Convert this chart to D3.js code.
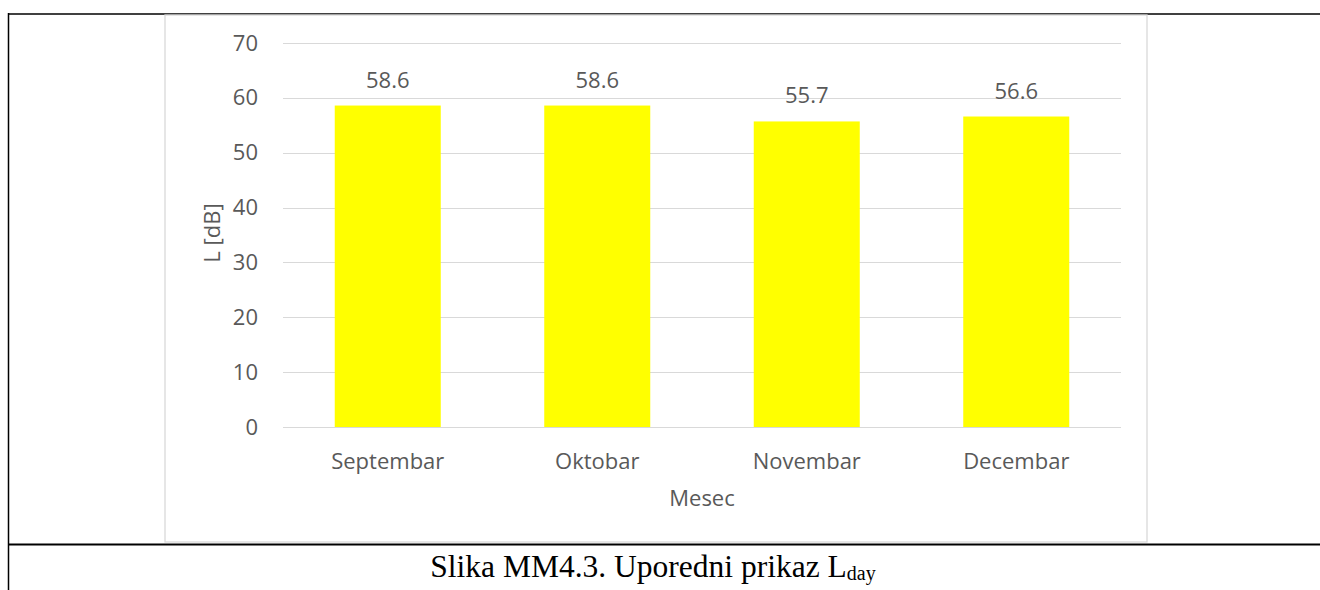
<!DOCTYPE html>
<html>
<head>
<meta charset="utf-8">
<script src="https://cdn.jsdelivr.net/npm/d3@7"></script>
<style>
	body { margin: 0; background: #fff; }
	svg { display: block; }
</style>
</head>
<body>
<svg width="1320" height="590"></svg>
<script>
var months = ["Septembar", "Oktobar", "Novembar", "Decembar"];
var values = [58.6, 58.6, 55.7, 56.6];
var yTicks = [0, 10, 20, 30, 40, 50, 60, 70];

function drawChart() {
	var svg = d3.select("svg");
	var font = "'Open Sans', 'Noto Sans', sans-serif";
	var textColor = "#595959";
	var fs = "22px";
	var margin = { top: 43, left: 283, right: 199, bottom: 163 },
		width = 1320 - margin.left - margin.right,
		height = 590 - margin.top - margin.bottom;

	// table lines around the figure
	svg.append("line").attr("x1", 8).attr("x2", 1320).attr("y1", 14).attr("y2", 14)
		.attr("stroke", "#000").attr("stroke-width", 1.5);
	svg.append("line").attr("x1", 8.5).attr("x2", 8.5).attr("y1", 13).attr("y2", 590)
		.attr("stroke", "#000").attr("stroke-width", 1.5);
	svg.append("line").attr("x1", 8).attr("x2", 1320).attr("y1", 544.5).attr("y2", 544.5)
		.attr("stroke", "#000").attr("stroke-width", 2);

	// chart area frame
	svg.append("rect").attr("x", 165).attr("y", 15).attr("width", 982).attr("height", 527)
		.attr("fill", "none").attr("stroke", "#d9d9d9").attr("stroke-width", 1.3);

	var g = svg.append("g").attr("transform", "translate(" + margin.left + "," + margin.top + ")");

	var x = d3.scaleBand().domain(months).range([0, width]).paddingInner(0.494).paddingOuter(0.247);
	var y = d3.scaleLinear().domain([0, 70]).range([height, 0]);

	// gridlines
	g.append("g")
		.selectAll("line")
		.data(yTicks)
		.enter()
		.append("line")
		.attr("x1", 0).attr("x2", width)
		.attr("y1", function (d) { return Math.round(y(d)) + 0.5 })
		.attr("y2", function (d) { return Math.round(y(d)) + 0.5 })
		.attr("stroke", "#d9d9d9").attr("stroke-width", 1.2);

	// y axis labels
	var yAxis = g.append("g").attr("transform", "translate(-25,0)")
		.call(d3.axisLeft(y).tickValues(yTicks).tickSize(0).tickPadding(0));
	yAxis.select(".domain").remove();
	yAxis.selectAll("text").attr("font-family", font).attr("font-size", fs).attr("fill", textColor);

	// bars
	g.selectAll(".bar")
		.data(values)
		.enter()
		.append("rect")
		.attr("class", "bar")
		.attr("x", function (d, i) { return x(months[i]) })
		.attr("y", function (d) { return y(d) })
		.attr("width", x.bandwidth())
		.attr("height", function (d) { return height - y(d) })
		.attr("fill", "#ffff00");

	// value labels
	g.selectAll(".val")
		.data(values)
		.enter()
		.append("text")
		.attr("class", "val")
		.attr("x", function (d, i) { return x(months[i]) + x.bandwidth() / 2 })
		.attr("y", function (d) { return y(d) - 18 })
		.attr("text-anchor", "middle")
		.attr("font-family", font).attr("font-size", fs).attr("fill", textColor)
		.text(function (d) { return d.toFixed(1) });

	// x axis labels
	var xAxis = g.append("g").attr("transform", "translate(0," + height + ")")
		.call(d3.axisBottom(x).tickSize(0).tickPadding(0));
	xAxis.select(".domain").remove();
	xAxis.selectAll("text").attr("font-family", font).attr("font-size", fs).attr("fill", textColor)
		.attr("dy", null).attr("y", 42);

	// axis titles
	g.append("text")
		.attr("x", width / 2).attr("y", height + 79)
		.attr("text-anchor", "middle")
		.attr("font-family", font).attr("font-size", fs).attr("fill", textColor)
		.text("Mesec");

	g.append("text")
		.attr("transform", "translate(-63," + (190) + ") rotate(-90)")
		.attr("text-anchor", "middle")
		.attr("font-family", font).attr("font-size", fs).attr("fill", textColor)
		.text("L [dB]");

	// caption
	var cap = svg.append("text")
		.attr("x", 653).attr("y", 577)
		.attr("text-anchor", "middle")
		.attr("font-family", "'Liberation Serif', 'Times New Roman', serif")
		.attr("font-size", "31.5px").attr("fill", "#000");
	cap.append("tspan").text("Slika MM4.3. Uporedni prikaz L");
	cap.append("tspan").attr("font-size", "20px").attr("dy", 3).text("day");
}

drawChart();
</script>
</body>
</html>
